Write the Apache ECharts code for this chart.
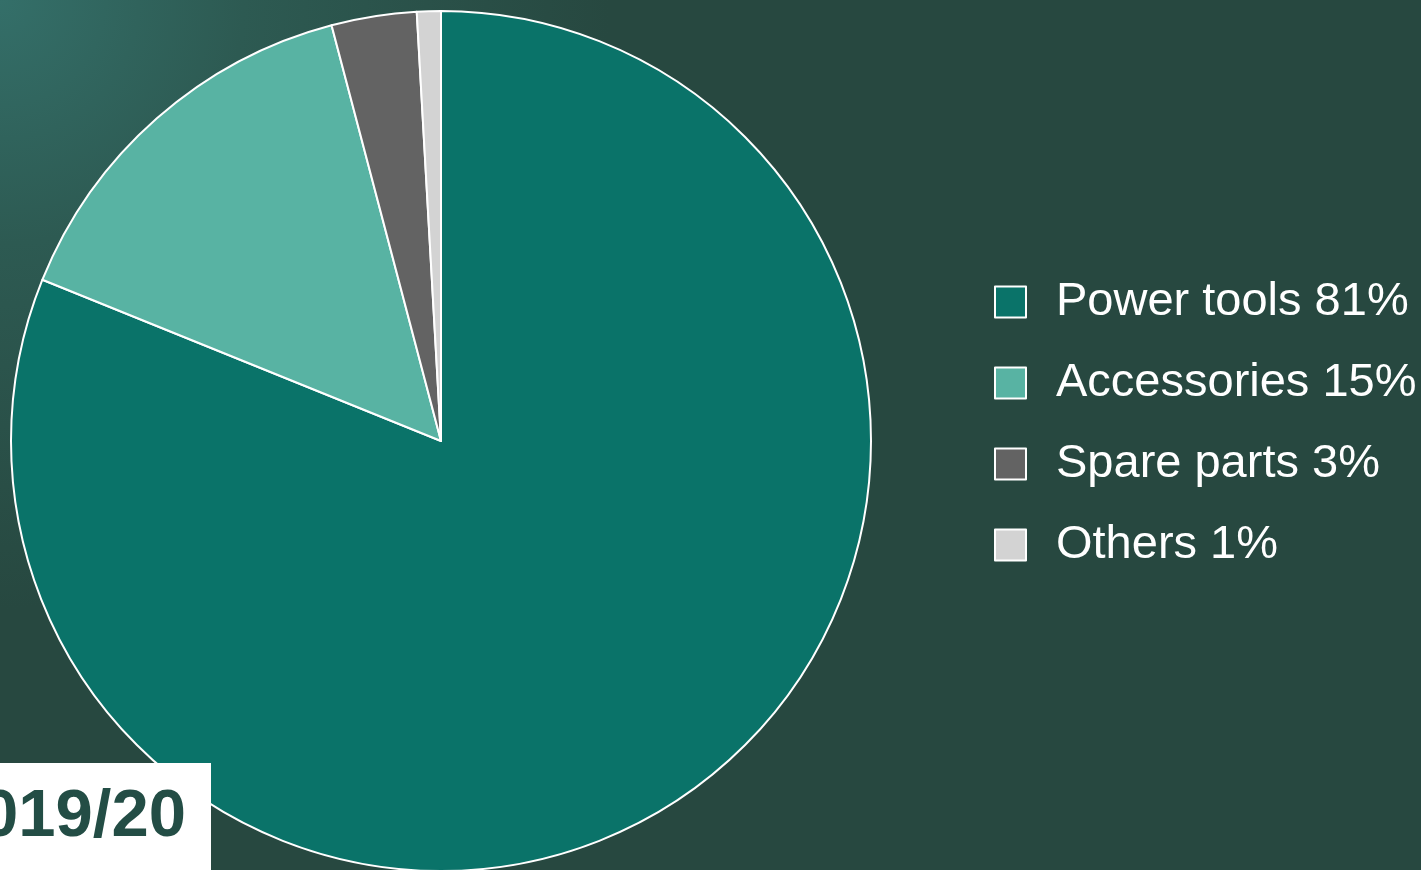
<!DOCTYPE html>
<html>
<head>
<meta charset="utf-8">
<style>
  html, body { margin: 0; padding: 0; background: #274840; }
  #chart { width: 1421px; height: 870px; }
</style>
<script src="https://cdn.jsdelivr.net/npm/echarts@6/dist/echarts.min.js"></script>
</head>
<body>
<div id="chart"></div>
<script>
const categories = ['Power tools', 'Accessories', 'Spare parts', 'Others'];
const shares = [81.2, 14.8, 3.2, 0.9];
const legendPercents = ['81%', '15%', '3%', '1%'];
const sliceColors = ['#0a7369', '#58b3a3', '#636363', '#d3d3d3'];
const periodLabel = '2019/20';

const chart = echarts.init(document.getElementById('chart'), null, { renderer: 'canvas' });

const option = {
  backgroundColor: {
    type: 'radial', x: 0, y: 0, r: 0.7,
    colorStops: [
      { offset: 0, color: '#346f69' },
      { offset: 0.4, color: '#2d5a52' },
      { offset: 1, color: '#274840' }
    ]
  },
  animation: false,
  legend: {
    orient: 'vertical',
    left: 989,
    top: 272,
    itemWidth: 31,
    itemHeight: 31,
    itemGap: 31,
    icon: 'rect',
    itemStyle: { borderColor: '#ffffff', borderWidth: 2 },
    textStyle: {
      color: '#ffffff',
      fontFamily: 'Liberation Sans, Arial, sans-serif',
      fontSize: 47,
      lineHeight: 50,
      padding: [0, 0, 0, 25]
    },
    formatter: function (name) {
      const i = categories.indexOf(name);
      return name + ' ' + legendPercents[i];
    },
    data: categories
  },
  series: [{
    type: 'pie',
    center: [441, 441],
    radius: [0, 430],
    startAngle: 90,
    clockwise: true,
    label: { show: false },
    labelLine: { show: false },
    emphasis: { disabled: true },
    itemStyle: { borderColor: '#ffffff', borderWidth: 2 },
    data: categories.map((c, i) => ({ name: c, value: shares[i], itemStyle: { color: sliceColors[i] } }))
  }],
  graphic: [
    {
      type: 'rect', z: 100,
      shape: { x: 0, y: 763, width: 211, height: 107 },
      style: { fill: '#ffffff' }
    },
    {
      type: 'text', z: 101,
      x: 186, y: 818,
      style: {
        text: periodLabel,
        fill: '#234d45',
        font: 'bold 67px "Liberation Sans", Arial, sans-serif',
        align: 'right',
        verticalAlign: 'middle'
      }
    }
  ]
};
chart.setOption(option);
</script>
</body>
</html>
